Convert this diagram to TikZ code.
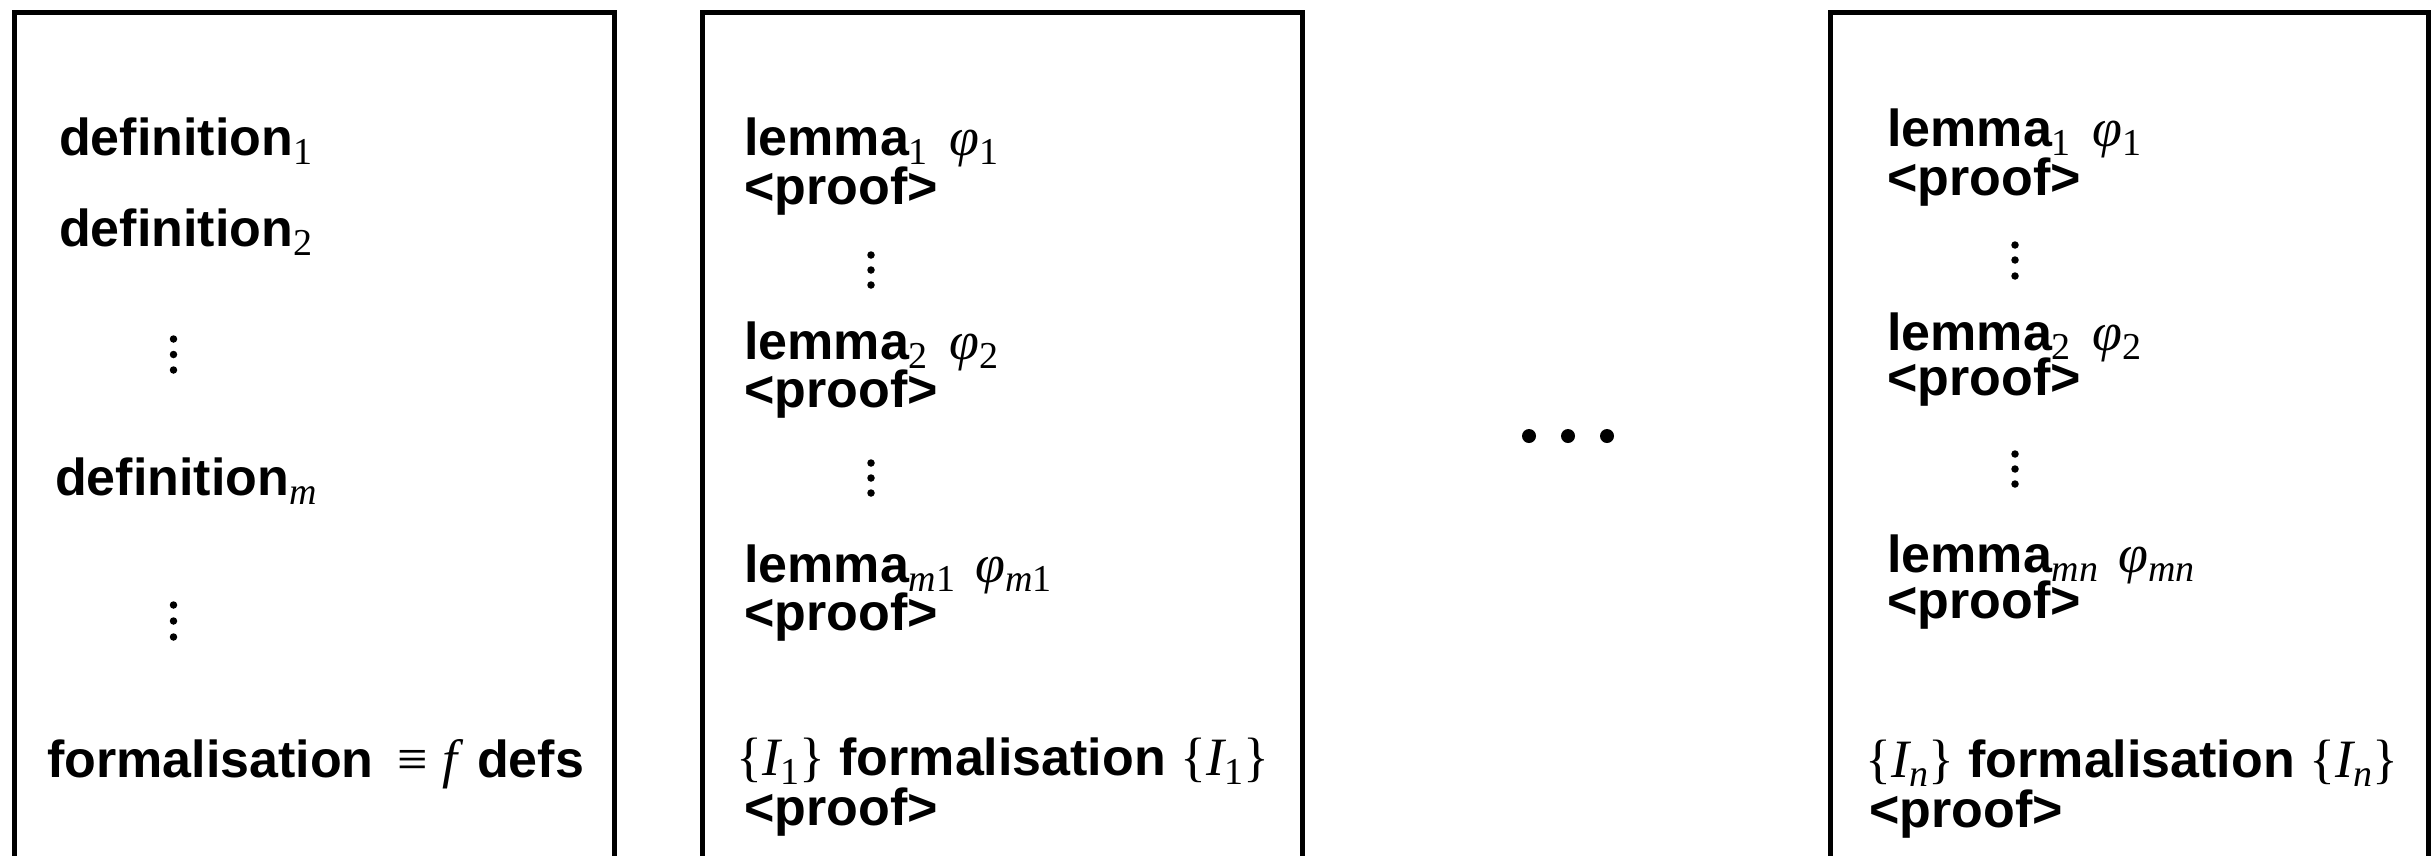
\documentclass[tikz,border=0pt]{standalone}
\usepackage{fontspec}
\setmainfont{Liberation Sans}
\newfontfamily\serifmath{Liberation Serif}
% text and formula pieces
\newcommand\txtsize{\fontsize{52}{60}\selectfont\bfseries}
\newcommand\mR[1]{{\fontsize{54}{60}\selectfont\mdseries\serifmath #1}}
\newcommand\mI[1]{{\fontsize{54}{60}\selectfont\mdseries\serifmath\itshape #1}}
\newcommand\sbR[1]{\raisebox{-9pt}{\fontsize{38}{40}\selectfont\mdseries\serifmath #1}}
\newcommand\sbI[1]{\raisebox{-9pt}{\fontsize{38}{40}\selectfont\mdseries\serifmath\itshape #1}}
\newcommand\sbIR[2]{\raisebox{-9pt}{\fontsize{38}{40}\selectfont\mdseries\serifmath{\itshape #1}#2}}

\begin{document}
\begin{tikzpicture}[x=1pt,y=-1pt,
  frame/.style={draw=black,line width=5pt,line join=miter},
  lbl/.style={anchor=base west,inner sep=0pt,font=\txtsize},
  vdot/.style={circle,fill=black,inner sep=0pt,minimum size=7.5pt},
  bigdot/.style={circle,fill=black,inner sep=0pt,minimum size=14pt}]
\useasboundingbox (0,0) rectangle (2434,855);
\clip (0,0) rectangle (2434,855);

% three open-bottomed frames
\draw[frame] (14.5,900) |- (614.5,12) -- (614.5,900);
\draw[frame] (702.5,900) |- (1302.5,12) -- (1302.5,900);
\draw[frame] (1830,900) |- (2428.5,12) -- (2428.5,900);

% definitions
\node[lbl] (d1) at (59,155) {definition\sbR{1}};
\node[lbl] (d2) at (59,246) {definition\sbR{2}};
\node[vdot] (a1) at (173.5,339) {};
\node[vdot] (a2) at (173.5,354.5) {};
\node[vdot] (a3) at (173.5,370) {};
\node[lbl] (dm) at (55,495) {definition\sbI{m}};
\node[vdot] (b1) at (173.5,605) {};
\node[vdot] (b2) at (173.5,621) {};
\node[vdot] (b3) at (173.5,637) {};
\node[lbl] (fdef) at (47,777) {formalisation\hspace{24pt}\mR{≡}\hspace{14pt}\mI{f}\hspace{20pt}defs};

% first lemma column
\node[lbl] (l11) at (744,155) {lemma\sbR{1}\hspace{22pt}\mI{φ}\sbR{1}};
\node[lbl] (p11) at (744,204) {<proof>};
\node[vdot] (c1) at (871,255) {};
\node[vdot] (c2) at (871,270) {};
\node[vdot] (c3) at (871,285) {};
\node[lbl] (l12) at (744,359) {lemma\sbR{2}\hspace{22pt}\mI{φ}\sbR{2}};
\node[lbl] (p12) at (744,407) {<proof>};
\node[vdot] (e1) at (871,463) {};
\node[vdot] (e2) at (871,478) {};
\node[vdot] (e3) at (871,493) {};
\node[lbl] (l1m) at (744,582) {lemma\sbIR{m}{1}\hspace{20pt}\mI{φ}\sbIR{m}{1}};
\node[lbl] (p1m) at (744,630) {<proof>};
\node[lbl] (f1) at (736,775) {\mR{\{}\mI{I}\sbR{1}\mR{\}} formalisation \mR{\{}\mI{I}\sbR{1}\mR{\}}};
\node[lbl] (pf1) at (744,825) {<proof>};

% ellipsis between columns
\node[bigdot] (g1) at (1529,436) {};
\node[bigdot] (g2) at (1568,436) {};
\node[bigdot] (g3) at (1607,436) {};

% last lemma column
\node[lbl] (ln1) at (1887,146) {lemma\sbR{1}\hspace{22pt}\mI{φ}\sbR{1}};
\node[lbl] (pn1) at (1887,195) {<proof>};
\node[vdot] (h1) at (2015,245) {};
\node[vdot] (h2) at (2015,260) {};
\node[vdot] (h3) at (2015,276) {};
\node[lbl] (ln2) at (1887,350) {lemma\sbR{2}\hspace{22pt}\mI{φ}\sbR{2}};
\node[lbl] (pn2) at (1887,395) {<proof>};
\node[vdot] (k1) at (2015,454) {};
\node[vdot] (k2) at (2015,469) {};
\node[vdot] (k3) at (2015,484) {};
\node[lbl] (lnm) at (1887,572) {lemma\sbI{mn}\hspace{20pt}\mI{φ}\sbI{mn}};
\node[lbl] (pnm) at (1887,618) {<proof>};
\node[lbl] (fn) at (1865,777) {\mR{\{}\mI{I}\sbI{n}\mR{\}} formalisation \mR{\{}\mI{I}\sbI{n}\mR{\}}};
\node[lbl] (pfn) at (1869,827) {<proof>};
\end{tikzpicture}
\end{document}
